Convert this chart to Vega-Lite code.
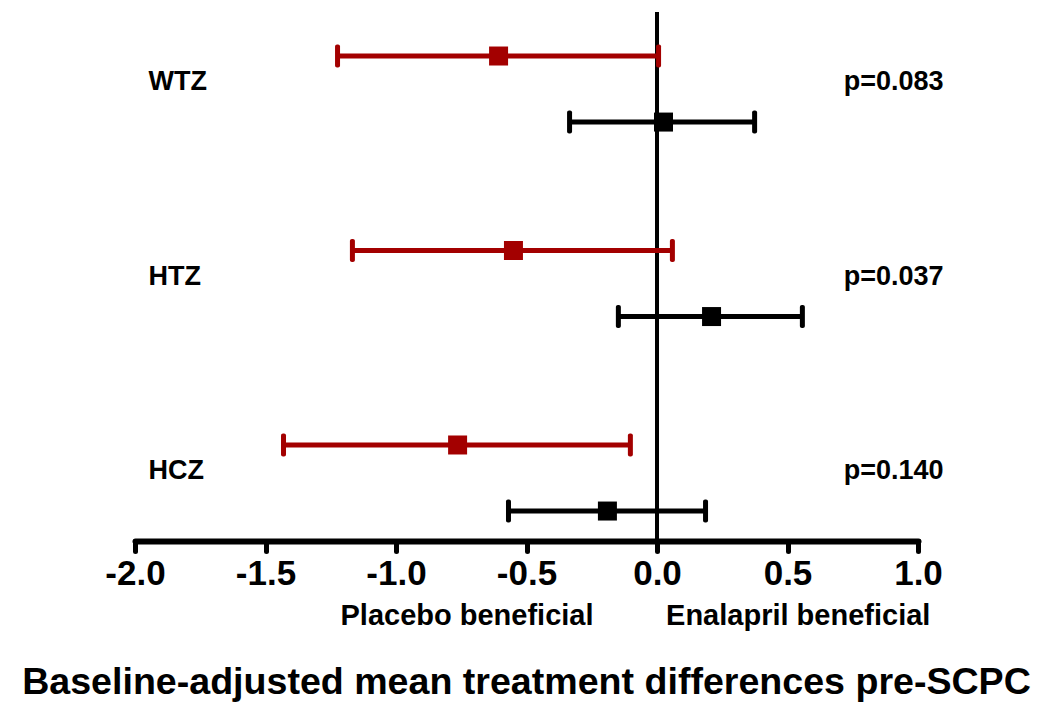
{
  "$schema": "https://vega.github.io/schema/vega-lite/v6.json",
  "width": 783,
  "height": 529,
  "autosize": {"type": "none"},
  "padding": {"left": 135, "top": 12, "right": 132, "bottom": 180},
  "background": "white",
  "title": {
    "text": "Baseline-adjusted mean treatment differences pre-SCPC",
    "orient": "bottom",
    "anchor": "middle",
    "font": "Liberation Sans",
    "fontSize": 37.6,
    "fontWeight": "bold",
    "color": "black",
    "offset": 34
  },
  "data": {
    "values": [
      {"genotype": "WTZ", "series": "Series 1", "est": -0.607, "lo": -1.224, "hi": 0.006, "p": "p=0.083"},
      {"genotype": "WTZ", "series": "Series 2", "est": 0.025, "lo": -0.335, "hi": 0.374, "p": "p=0.083"},
      {"genotype": "HTZ", "series": "Series 1", "est": -0.55, "lo": -1.167, "hi": 0.059, "p": "p=0.037"},
      {"genotype": "HTZ", "series": "Series 2", "est": 0.209, "lo": -0.148, "hi": 0.557, "p": "p=0.037"},
      {"genotype": "HCZ", "series": "Series 1", "est": -0.764, "lo": -1.431, "hi": -0.102, "p": "p=0.140"},
      {"genotype": "HCZ", "series": "Series 2", "est": -0.19, "lo": -0.569, "hi": 0.186, "p": "p=0.140"}
    ]
  },
  "layer": [
    {
      "layer": [
        {
          "mark": {"type": "rule", "strokeWidth": 4, "color": "black"},
          "encoding": {
            "x": {"datum": 0, "type": "quantitative", "scale": {"domain": [-2, 1], "nice": false, "zero": false}, "title": "Placebo beneficial\u00a0\u00a0\u00a0\u00a0\u00a0\u00a0\u00a0\u00a0\u00a0Enalapril beneficial", "axis": {"values": [-2, -1.5, -1, -0.5, 0, 0.5, 1], "labelExpr": "replace(format(datum.value, '.1f'), '\u2212', '-')"}}
          }
        },
        {
          "mark": {"type": "rule", "strokeWidth": 5},
          "encoding": {
            "x": {"field": "lo", "type": "quantitative", "title": "Placebo beneficial\u00a0\u00a0\u00a0\u00a0\u00a0\u00a0\u00a0\u00a0\u00a0Enalapril beneficial", "axis": {"values": [-2, -1.5, -1, -0.5, 0, 0.5, 1], "labelExpr": "replace(format(datum.value, '.1f'), '\u2212', '-')"}},
            "x2": {"field": "hi"},
            "y": {"field": "genotype", "type": "nominal", "sort": ["WTZ", "HTZ", "HCZ"], "scale": {"type": "band", "paddingInner": 0.28, "paddingOuter": 0},
                  "axis": {"orient": "left", "title": null, "domain": false, "ticks": false, "tickSize": 0, "labelAlign": "left", "labelPadding": -13, "labelFont": "Liberation Sans", "labelFontSize": 27, "labelFontWeight": "bold", "labelColor": "black"}},
            "yOffset": {"field": "series", "type": "nominal", "sort": ["Series 1", "Series 2"], "scale": {"type": "point", "padding": 0.56, "align": 0.595}},
            "color": {"field": "series", "type": "nominal", "scale": {"domain": ["Series 1", "Series 2"], "range": ["#A30000", "#000000"]}, "legend": null}
          }
        },
        {
          "mark": {"type": "tick", "thickness": 5, "size": 23, "cornerRadius": 2, "opacity": 1},
          "encoding": {
            "x": {"field": "lo", "type": "quantitative", "title": "Placebo beneficial\u00a0\u00a0\u00a0\u00a0\u00a0\u00a0\u00a0\u00a0\u00a0Enalapril beneficial", "axis": {"values": [-2, -1.5, -1, -0.5, 0, 0.5, 1], "labelExpr": "replace(format(datum.value, '.1f'), '\u2212', '-')"}},
            "y": {"field": "genotype", "type": "nominal", "sort": ["WTZ", "HTZ", "HCZ"]},
            "yOffset": {"field": "series", "type": "nominal", "sort": ["Series 1", "Series 2"]},
            "color": {"field": "series", "type": "nominal", "legend": null}
          }
        },
        {
          "mark": {"type": "tick", "thickness": 5, "size": 23, "cornerRadius": 2, "opacity": 1},
          "encoding": {
            "x": {"field": "hi", "type": "quantitative", "title": "Placebo beneficial\u00a0\u00a0\u00a0\u00a0\u00a0\u00a0\u00a0\u00a0\u00a0Enalapril beneficial", "axis": {"values": [-2, -1.5, -1, -0.5, 0, 0.5, 1], "labelExpr": "replace(format(datum.value, '.1f'), '\u2212', '-')"}},
            "y": {"field": "genotype", "type": "nominal", "sort": ["WTZ", "HTZ", "HCZ"]},
            "yOffset": {"field": "series", "type": "nominal", "sort": ["Series 1", "Series 2"]},
            "color": {"field": "series", "type": "nominal", "legend": null}
          }
        },
        {
          "mark": {"type": "point", "shape": "square", "filled": true, "opacity": 1, "size": 361},
          "encoding": {
            "x": {"field": "est", "type": "quantitative", "title": "Placebo beneficial\u00a0\u00a0\u00a0\u00a0\u00a0\u00a0\u00a0\u00a0\u00a0Enalapril beneficial", "axis": {"values": [-2, -1.5, -1, -0.5, 0, 0.5, 1], "labelExpr": "replace(format(datum.value, '.1f'), '\u2212', '-')"}},
            "y": {"field": "genotype", "type": "nominal", "sort": ["WTZ", "HTZ", "HCZ"]},
            "yOffset": {"field": "series", "type": "nominal", "sort": ["Series 1", "Series 2"]},
            "color": {"field": "series", "type": "nominal", "legend": null}
          }
        }
      ]
    },
    {
      "mark": {"type": "point", "opacity": 0},
      "encoding": {
        "x": {"field": "est", "type": "quantitative", "title": "Placebo beneficial\u00a0\u00a0\u00a0\u00a0\u00a0\u00a0\u00a0\u00a0\u00a0Enalapril beneficial", "axis": {"values": [-2, -1.5, -1, -0.5, 0, 0.5, 1], "labelExpr": "replace(format(datum.value, '.1f'), '\u2212', '-')"}},
        "y": {"field": "p", "type": "nominal", "sort": ["p=0.083", "p=0.037", "p=0.140"], "scale": {"type": "band", "paddingInner": 0.28, "paddingOuter": 0},
              "axis": {"orient": "right", "title": null, "domain": false, "ticks": false, "tickSize": 0, "labelAlign": "right", "labelPadding": 25, "labelFont": "Liberation Sans", "labelFontSize": 27, "labelFontWeight": "bold", "labelColor": "black"}}
      }
    }
  ],
  "resolve": {"scale": {"y": "independent"}},
  "config": {
    "view": {"stroke": null},
    "axisX": {
      "grid": false,
      "domainColor": "black",
      "domainWidth": 6,
      "domainCap": "round",
      "tickColor": "black",
      "tickSize": 10,
      "tickWidth": 5,
      "tickCap": "round",
      "labelFont": "Liberation Sans",
      "labelFontSize": 35,
      "labelFontWeight": "bold",
      "labelColor": "black",
      "labelPadding": 5,
      "labelFlush": false,
      "labelOverlap": false,
      "titleFont": "Liberation Sans",
      "titleFontSize": 29,
      "titleFontWeight": "bold",
      "titleColor": "black",
      "titleAnchor": "start",
      "titleAlign": "left",
      "titleX": 205,
      "titleY": 83,
      "titleBaseline": "alphabetic"
    }
  }
}
